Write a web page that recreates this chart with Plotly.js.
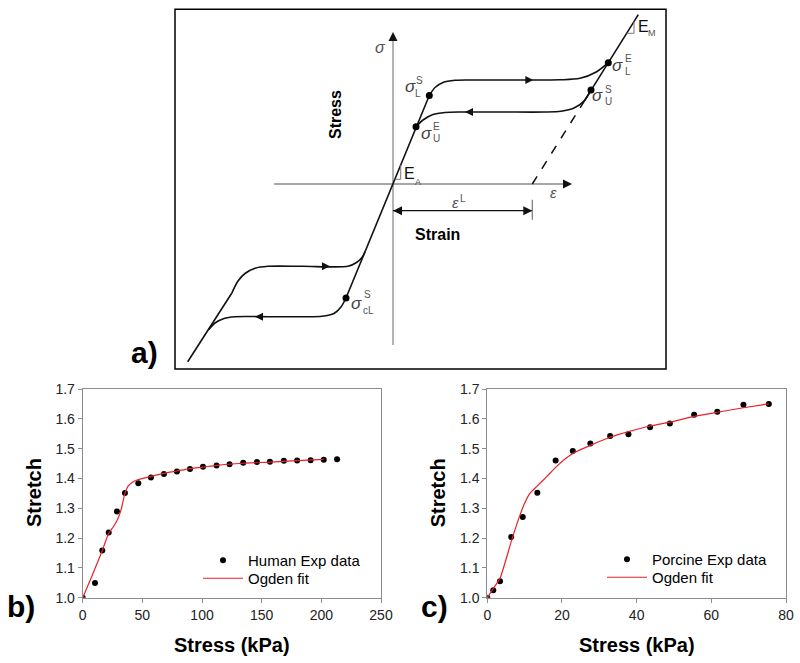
<!DOCTYPE html>
<html><head><meta charset="utf-8">
<script src="https://cdn.plot.ly/plotly-3.0.1.min.js"></script>
<style>html,body{margin:0;padding:0;background:#fff}#chart{width:800px;height:663px}</style>
</head><body><div id="chart"></div>
<script>
// ---------- Panel b: human ----------
const humanStress  = [0, 10.3, 16.4, 21.8, 28.7, 35.4, 46.6, 57.2, 68.1, 79.0, 89.9, 100.8, 112.2, 123.1, 134.5, 146.0, 156.9, 168.6, 179.7, 191.0, 202.0, 213.2];
const humanStretch = [1.000, 1.049, 1.158, 1.219, 1.289, 1.351, 1.384, 1.403, 1.415, 1.423, 1.432, 1.439, 1.443, 1.448, 1.453, 1.455, 1.456, 1.459, 1.460, 1.461, 1.463, 1.464];
const humanFitStress  = [0, 7.5, 16.4, 21.8, 25.7, 28.7, 32.1, 35.4, 38.2, 42.4, 46.6, 57.2, 68.1, 79.0, 89.9, 100.8, 112.2, 134.5, 156.9, 179.7, 202.0];
const humanFitStretch = [1.000, 1.070, 1.158, 1.216, 1.238, 1.258, 1.294, 1.350, 1.375, 1.389, 1.396, 1.407, 1.417, 1.425, 1.433, 1.438, 1.444, 1.451, 1.455, 1.460, 1.464];

// ---------- Panel c: porcine ----------
const porcineStress  = [0, 1.6, 3.4, 6.4, 9.5, 13.4, 18.3, 22.9, 27.6, 32.9, 37.8, 43.6, 48.9, 55.4, 61.6, 68.6, 75.4];
const porcineStretch = [1.000, 1.025, 1.055, 1.204, 1.271, 1.352, 1.460, 1.492, 1.517, 1.542, 1.548, 1.572, 1.584, 1.614, 1.624, 1.647, 1.650];
const porcineFitStress  = [0, 1.6, 3.4, 6.4, 8.3, 9.9, 11.4, 13.4, 15.9, 18.3, 20.8, 22.9, 27.6, 32.9, 37.8, 43.6, 48.9, 55.4, 61.6, 68.6, 75.4];
const porcineFitStretch = [1.000, 1.031, 1.065, 1.188, 1.261, 1.314, 1.350, 1.375, 1.406, 1.437, 1.465, 1.484, 1.511, 1.538, 1.557, 1.576, 1.589, 1.608, 1.622, 1.637, 1.650];

// ---------- Panel a: schematic (strain / stress in schematic units) ----------
const elasticX = [-47, 0, 36.3];               const elasticY = [-114, 0, 88.5];
const tensLoadX = [36.3, 42, 50, 62, 77, 120, 167, 187, 203.7, 215.3];
const tensLoadY = [88.5, 96.5, 101.5, 103.7, 104, 104, 104.2, 105.7, 112.3, 121.3];
const tensUnloadX = [198, 191, 181, 168, 152, 110, 67, 52, 40, 30, 23];
const tensUnloadY = [94, 83, 76, 72.8, 72, 72, 72, 71.5, 69.5, 64, 57.3];
const emDashX = [139.3, 191];   const emDashY = [0, 82.4];
const emSolidX = [191, 245.3];  const emSolidY = [82.4, 169.3];
const steepX = [-205.3, -161.3]; const steepY = [-177.7, -109.3];
const compUpX = [-161.3, -155, -148, -138, -125, -90, -45, -36.5, -31, -28];
const compUpY = [-109.3, -97, -89.5, -84.3, -82.3, -82.3, -82.3, -78.5, -73.5, -67.7];
const compLowX = [-47, -52, -59, -71, -93, -125, -158, -169, -178, -184.7];
const compLowY = [-114, -123, -129.5, -132.3, -132.7, -132.7, -132.7, -134.5, -139, -146];
const flowX = [140.3, 72, -63, -138];
const flowY = [104, 72, -82.3, -132.7];
const flowSym = ['arrow-right', 'arrow-left', 'arrow-right', 'arrow-left'];
const sigmaAxisX = [0, 0];     const sigmaAxisY = [-161, 149];
const epsAxisX = [-119, 176];  const epsAxisY = [0, 0];
const axisTipX = [0, 179];     const axisTipY = [152, 0];
const axisTipSym = ['arrow-up', 'arrow-right'];
const dimX = [0, 139.3];       const dimY = [-26.7, -26.7];
const dimHeadSym = ['arrow-left', 'arrow-right'];
const dimTickX = [139.3, 139.3]; const dimTickY = [-15.7, -35.7];
const eaTriX = [1.9, 7.7, 7.7];      const eaTriY = [4.7, 4.7, 18.8];
const emTriX = [233.7, 241, 241];    const emTriY = [150.7, 150.7, 162.4];
const dotX = [36.3, 23, -47, 198, 215.3];
const dotY = [88.5, 57.3, -114, 94, 121.3];

const W = 800, H = 663;
const FONT = 'Arial, "Liberation Sans", sans-serif';
const px = v => v / W, py = v => 1 - v / H;

const traces = [];
// panel b
traces.push({x: humanStress, y: humanStretch, type: 'scatter', mode: 'markers', name: 'Human Exp data',
  marker: {color: '#000', size: 6}, xaxis: 'x', yaxis: 'y', legend: 'legend'});
traces.push({x: humanFitStress, y: humanFitStretch, type: 'scatter', mode: 'lines', name: 'Ogden fit',
  line: {color: '#e8202a', width: 1.2, shape: 'spline', smoothing: 0.6}, xaxis: 'x', yaxis: 'y', legend: 'legend3'});
// panel c
traces.push({x: porcineStress, y: porcineStretch, type: 'scatter', mode: 'markers', name: 'Porcine Exp data',
  marker: {color: '#000', size: 6}, xaxis: 'x2', yaxis: 'y2', legend: 'legend2'});
traces.push({x: porcineFitStress, y: porcineFitStretch, type: 'scatter', mode: 'lines', name: 'Ogden fit',
  line: {color: '#e8202a', width: 1.2, shape: 'spline', smoothing: 0.6}, xaxis: 'x2', yaxis: 'y2', legend: 'legend4'});

// panel a
const sch = (x, y, extra) => Object.assign({x, y, type: 'scatter', mode: 'lines', xaxis: 'x3', yaxis: 'y3',
  showlegend: false, hoverinfo: 'skip', line: {color: '#111', width: 1.6}}, extra || {});
traces.push(sch(sigmaAxisX, sigmaAxisY, {line: {color: '#8a8a8a', width: 1.3}}));
traces.push(sch(epsAxisX, epsAxisY, {line: {color: '#8a8a8a', width: 1.3}}));
traces.push(sch(axisTipX, axisTipY, {mode: 'markers', marker: {symbol: axisTipSym, size: 9, color: '#111'}}));
traces.push(sch(elasticX, elasticY));
traces.push(sch(tensLoadX, tensLoadY, {line: {color: '#111', width: 1.6, shape: 'spline', smoothing: 0.8}}));
traces.push(sch(tensUnloadX, tensUnloadY, {line: {color: '#111', width: 1.6, shape: 'spline', smoothing: 0.8}}));
traces.push(sch(emDashX, emDashY, {line: {color: '#111', width: 1.5, dash: 'dash'}}));
traces.push(sch(emSolidX, emSolidY));
traces.push(sch(steepX, steepY));
traces.push(sch(compUpX, compUpY, {line: {color: '#111', width: 1.6, shape: 'spline', smoothing: 0.8}}));
traces.push(sch(compLowX, compLowY, {line: {color: '#111', width: 1.6, shape: 'spline', smoothing: 0.8}}));
traces.push(sch(flowX, flowY, {mode: 'markers', marker: {symbol: flowSym, size: 8, color: '#111'}}));
traces.push(sch(dimX, dimY, {line: {color: '#111', width: 1.2}}));
traces.push(sch(dimX, dimY, {mode: 'markers', marker: {symbol: dimHeadSym, size: 9, color: '#111'}}));
traces.push(sch(dimTickX, dimTickY, {line: {color: '#777', width: 1.2}}));
traces.push(sch(eaTriX, eaTriY, {line: {color: '#777', width: 1}}));
traces.push(sch(emTriX, emTriY, {line: {color: '#777', width: 1}}));
traces.push(sch(dotX, dotY, {mode: 'markers', marker: {size: 7, color: '#000'}}));

const ann = [];
const lab = (x, y, text, size, color, extra) => ann.push(Object.assign({xref: 'x3', yref: 'y3', x, y, text,
  xanchor: 'center', yanchor: 'middle', showarrow: false, font: {family: FONT, size, color}}, extra || {}));
const sig = '<i>σ</i>';
lab(-13, 136, sig, 16, '#555');
lab(160, -9, '<i>ε</i>', 15, '#555');
lab(62, -19, '<i>ε</i>', 15, '#555');
lab(69.5, -14.5, 'L', 10, '#555');
lab(-57, 69, '<b>Stress</b>', 16, '#000', {textangle: -90});
lab(44.5, -51, '<b>Strain</b>', 16, '#000');
lab(17, 97.3, sig, 17, '#444'); lab(26.3, 103.3, 'S', 10, '#555'); lab(25.3, 90.7, 'L', 10, '#555');
lab(33.7, 50.7, sig, 17, '#444'); lab(43.7, 57.3, 'E', 10, '#555'); lab(43.7, 45.7, 'U', 10, '#555');
lab(-36.3, -119.3, sig, 17, '#444'); lab(-25.7, -111, 'S', 10, '#555'); lab(-24.5, -126.7, 'cL', 10, '#555');
lab(224.3, 118, sig, 17, '#444'); lab(235.3, 125.7, 'E', 10, '#555'); lab(235.3, 112.3, 'L', 10, '#555');
lab(204.3, 88, sig, 17, '#444'); lab(215.3, 94.7, 'S', 10, '#555'); lab(215.3, 82.3, 'U', 10, '#555');
lab(250, 157, 'E', 16, '#111'); lab(259, 151, 'M', 9, '#555');
lab(16.5, 10, 'E', 16, '#111'); lab(25, 2, 'A', 9, '#555');

const plab = (x, y, text, size, extra) => ann.push(Object.assign({xref: 'paper', yref: 'paper', x: px(x), y: py(y),
  xanchor: 'center', yanchor: 'middle', text, showarrow: false, font: {family: FONT, size, color: '#000'}}, extra || {}));
plab(144, 352, '<b>a)</b>', 30);
plab(21, 606, '<b>b)</b>', 30);
plab(435, 606, '<b>c)</b>', 30);
plab(34, 493, '<b>Stretch</b>', 20, {textangle: -90});
plab(232.3, 645, '<b>Stress (kPa)</b>', 20);
plab(438.3, 493, '<b>Stretch</b>', 20, {textangle: -90});
plab(636.7, 645, '<b>Stress (kPa)</b>', 20);

const baseAx = {showline: true, mirror: true, linecolor: '#8c8c8c', linewidth: 1, ticks: 'outside', ticklen: 4,
  tickcolor: '#8c8c8c', showgrid: false, zeroline: false, tickfont: {family: FONT, size: 14, color: '#222'}, fixedrange: true};
const hidden = {visible: false, showgrid: false, zeroline: false, fixedrange: true};
const leg = (xl, ytop) => ({x: px(xl), y: py(ytop), xanchor: 'left', yanchor: 'top', bgcolor: 'rgba(0,0,0,0)',
  font: {family: FONT, size: 15, color: '#000'}, itemwidth: 40, tracegroupgap: 0});

const layout = {
  width: W, height: H, margin: {l: 0, r: 0, t: 0, b: 0}, paper_bgcolor: '#fff', plot_bgcolor: 'rgba(0,0,0,0)',
  font: {family: FONT},
  xaxis: Object.assign({}, baseAx, {domain: [px(82.7), px(381)], range: [0, 250], dtick: 50, anchor: 'y'}),
  yaxis: Object.assign({}, baseAx, {domain: [py(597.7), py(389)], range: [1.0, 1.7], dtick: 0.1, tickformat: '.1f', anchor: 'x'}),
  xaxis2: Object.assign({}, baseAx, {domain: [px(487.3), px(786)], range: [0, 80], dtick: 20, anchor: 'y2'}),
  yaxis2: Object.assign({}, baseAx, {domain: [py(597.7), py(389)], range: [1.0, 1.7], dtick: 0.1, tickformat: '.1f', anchor: 'x2'}),
  xaxis3: Object.assign({}, hidden, {domain: [px(175), px(666)], range: [-218, 273], anchor: 'y3'}),
  yaxis3: Object.assign({}, hidden, {domain: [py(369), py(9.3)], range: [-185, 174.7], anchor: 'x3'}),
  legend: leg(198, 544),
  legend3: leg(198, 562),
  legend2: leg(602, 543),
  legend4: leg(602, 561),
  shapes: [{type: 'rect', xref: 'paper', yref: 'paper', x0: px(175), x1: px(666), y0: py(369), y1: py(9.3),
    line: {color: '#000', width: 1.5}}],
  annotations: ann
};

Plotly.newPlot('chart', traces, layout, {staticPlot: true});
</script></body></html>
